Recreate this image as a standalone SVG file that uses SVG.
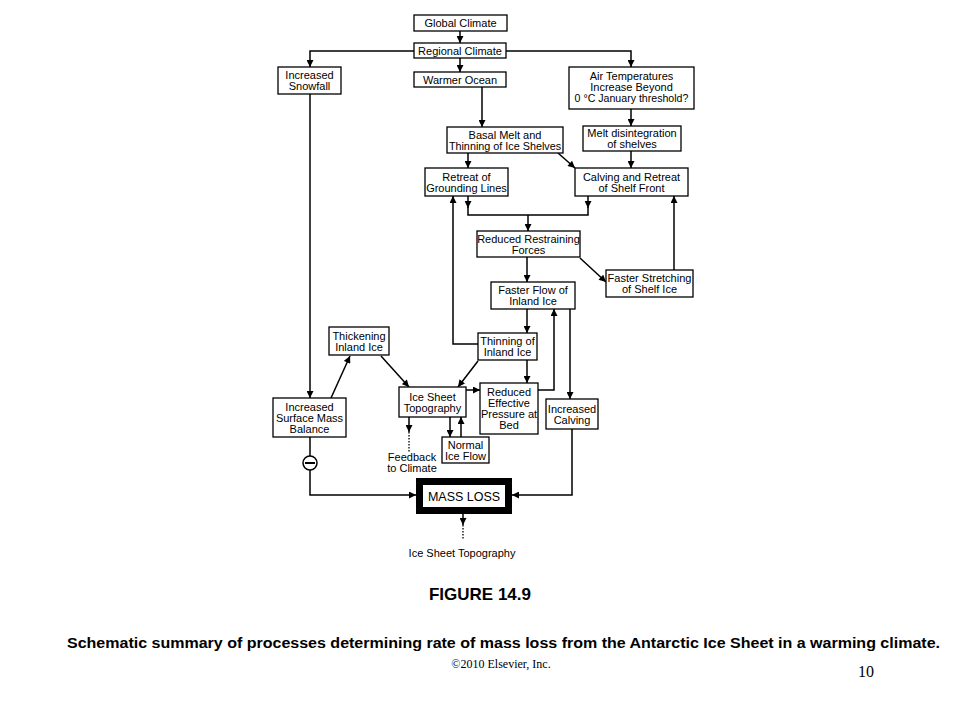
<svg xmlns="http://www.w3.org/2000/svg" width="960" height="720" viewBox="0 0 960 720">
<defs>
<marker id="ah" viewBox="0 0 10 10" refX="10" refY="5" markerWidth="8" markerHeight="7" markerUnits="userSpaceOnUse" orient="auto"><path d="M0,0 L10,5 L0,10 z" fill="#000"/></marker>
</defs>
<style>
.b{fill:#fff;stroke:#000;stroke-width:1.3}
.t{font-family:"Liberation Sans",Arial,sans-serif;font-size:11px;text-anchor:middle;fill:#000}
.c{fill:none;stroke:#000;stroke-width:1.5}
.a{fill:none;stroke:#000;stroke-width:1.5;marker-end:url(#ah)}
.d{fill:none;stroke:#000;stroke-width:1.3;stroke-dasharray:1.5,1.5}
</style>
<rect width="960" height="720" fill="#fff"/>
<g id="connectors">
<path class="a" d="M460,31 V43"/>
<path class="a" d="M414,51 H310 V67"/>
<path class="a" d="M460,58 V72"/>
<path class="a" d="M506,51 H631 V67"/>
<path class="a" d="M482,87 V127"/>
<path class="a" d="M631,109 V126"/>
<path class="a" d="M468,153 V168"/>
<path class="a" d="M558,153 L575,168"/>
<path class="a" d="M631,151 V168"/>
<path class="a" d="M468,196 V208"/>
<path class="a" d="M588,196 V208"/>
<path class="c" d="M468,207 V215 H588 V207"/>
<path class="a" d="M528,215 V231"/>
<path class="a" d="M580,258 L606,282"/>
<path class="a" d="M674,270 V196"/>
<path class="a" d="M527,257 V282"/>
<path class="a" d="M527,309 V333"/>
<path class="a" d="M478,344 H453 V196"/>
<path class="a" d="M527,360 V383"/>
<path class="a" d="M478,361 L458,387"/>
<path class="a" d="M538,390 H554 V309"/>
<path class="a" d="M570,309 V399"/>
<path class="a" d="M572,429 V495 H512"/>
<path class="a" d="M310,94 V398"/>
<path class="a" d="M331,398 L350,356"/>
<path class="a" d="M381,356 L409,387"/>
<path class="a" d="M466,390 H480"/>
<path class="a" d="M409,417 V432"/>
<path class="d" d="M409,432 V453"/>
<path class="a" d="M450,417 V437"/>
<path class="a" d="M461,437 V417"/>
<path class="c" d="M310,437 V456"/>
<path class="a" d="M310,470 V495 H416"/>
<path class="a" d="M463,514 V525"/>
<path class="d" d="M463,525 V539"/>
</g>
<g id="minus">
<circle cx="310" cy="463" r="7" fill="#fff" stroke="#000" stroke-width="1.5"/>
<path d="M305,463 H315" stroke="#000" stroke-width="2"/>
</g>
<g id="global"><rect class="b" x="414" y="15" width="93" height="16"/><text class="t" x="460.5" y="27">Global Climate</text></g>
<g id="regional"><rect class="b" x="414" y="43" width="92" height="15"/><text class="t" x="460" y="54.5">Regional Climate</text></g>
<g id="warmer"><rect class="b" x="414" y="72" width="92" height="15"/><text class="t" x="460" y="83.5">Warmer Ocean</text></g>
<g id="snowfall"><rect class="b" x="278" y="67" width="63" height="27"/><text class="t" x="309.5" y="79">Increased</text><text class="t" x="309.5" y="90">Snowfall</text></g>
<g id="airtemp"><rect class="b" x="569" y="67" width="125" height="42"/><text class="t" x="631.5" y="80">Air Temperatures</text><text class="t" x="631.5" y="91">Increase Beyond</text><text class="t" x="631.5" y="102" style="font-size:10.6px">0 °C January threshold?</text></g>
<g id="basal"><rect class="b" x="447" y="127" width="116" height="26"/><text class="t" x="505" y="138.5">Basal Melt and</text><text class="t" x="505" y="149.5" style="font-size:10.8px">Thinning of Ice Shelves</text></g>
<g id="meltdis"><rect class="b" x="583" y="126" width="98" height="25"/><text class="t" x="632" y="137">Melt disintegration</text><text class="t" x="632" y="148">of shelves</text></g>
<g id="retreat"><rect class="b" x="425" y="168" width="83" height="28"/><text class="t" x="466.5" y="180.5">Retreat of</text><text class="t" x="466.5" y="191.5">Grounding Lines</text></g>
<g id="calving"><rect class="b" x="575" y="168" width="113" height="28"/><text class="t" x="631.5" y="180.5">Calving and Retreat</text><text class="t" x="631.5" y="191.5">of Shelf Front</text></g>
<g id="restraining"><rect class="b" x="477" y="231" width="103" height="26"/><text class="t" x="528.5" y="242.5">Reduced Restraining</text><text class="t" x="528.5" y="253.5">Forces</text></g>
<g id="stretching"><rect class="b" x="606" y="270" width="87" height="27"/><text class="t" x="649.5" y="282">Faster Stretching</text><text class="t" x="649.5" y="293">of Shelf Ice</text></g>
<g id="fasterflow"><rect class="b" x="491" y="282" width="84" height="27"/><text class="t" x="533" y="294">Faster Flow of</text><text class="t" x="533" y="305">Inland Ice</text></g>
<g id="thinning"><rect class="b" x="478" y="333" width="59" height="27"/><text class="t" x="507.5" y="345">Thinning of</text><text class="t" x="507.5" y="356">Inland Ice</text></g>
<g id="thickening"><rect class="b" x="329" y="327" width="60" height="28"/><text class="t" x="359" y="339.5">Thickening</text><text class="t" x="359" y="350.5">Inland Ice</text></g>
<g id="topography"><rect class="b" x="399" y="387" width="67" height="30"/><text class="t" x="432.5" y="400.5">Ice Sheet</text><text class="t" x="432.5" y="411.5">Topography</text></g>
<g id="effective"><rect class="b" x="480" y="383" width="58" height="51"/><text class="t" x="509" y="396">Reduced</text><text class="t" x="509" y="407">Effective</text><text class="t" x="509" y="418">Pressure at</text><text class="t" x="509" y="429">Bed</text></g>
<g id="inccalving"><rect class="b" x="546" y="399" width="52" height="30"/><text class="t" x="572" y="412.5">Increased</text><text class="t" x="572" y="423.5">Calving</text></g>
<g id="smb"><rect class="b" x="273" y="398" width="73" height="39"/><text class="t" x="309.5" y="410.5">Increased</text><text class="t" x="309.5" y="421.5">Surface Mass</text><text class="t" x="309.5" y="432.5">Balance</text></g>
<g id="normal"><rect class="b" x="442" y="437" width="47" height="26"/><text class="t" x="465.5" y="448.5">Normal</text><text class="t" x="465.5" y="459.5">Ice Flow</text></g>
<g id="feedback"><text class="t" x="412" y="461">Feedback</text><text class="t" x="412" y="471.5">to Climate</text></g>
<g id="massloss"><rect x="419.5" y="481.5" width="89" height="29" fill="#fff" stroke="#000" stroke-width="7"/><text class="t" x="464" y="500.5" style="font-size:12.5px">MASS LOSS</text></g>
<g id="topolabel"><text class="t" x="462" y="557">Ice Sheet Topography</text></g>
<g id="captions">
<text x="480" y="600" style="font-family:'Liberation Sans',Arial,sans-serif;font-size:17px;font-weight:bold;text-anchor:middle">FIGURE 14.9</text>
<text x="503.5" y="648" textLength="873" lengthAdjust="spacingAndGlyphs" style="font-family:'Liberation Sans',Arial,sans-serif;font-size:14px;font-weight:bold;text-anchor:middle">Schematic summary of processes determining rate of mass loss from the Antarctic Ice Sheet in a warming climate.</text>
<text x="501" y="668" style="font-family:'Liberation Serif','Times New Roman',serif;font-size:12px;text-anchor:middle">©2010 Elsevier, Inc.</text>
<text x="866" y="677" style="font-family:'Liberation Serif','Times New Roman',serif;font-size:16px;text-anchor:middle">10</text>
</g>
</svg>
